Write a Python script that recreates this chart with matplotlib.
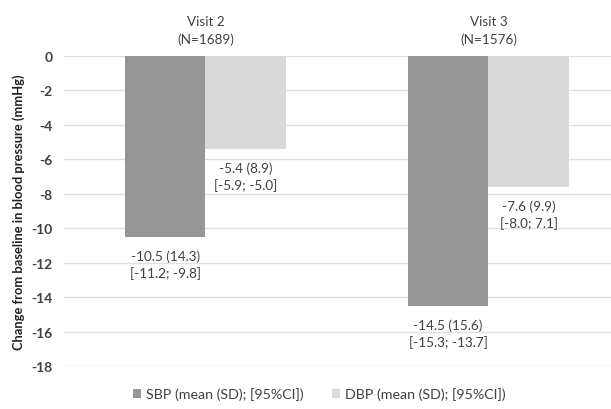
import matplotlib
matplotlib.use("Agg")
import matplotlib.pyplot as plt
import numpy as np

visits = ["Visit 2\n(N=1689)", "Visit 3\n(N=1576)"]
sbp_mean = [-10.5, -14.5]
sbp_sd = [14.3, 15.6]
sbp_ci = [(-11.2, -9.8), (-15.3, -13.7)]
dbp_mean = [-5.4, -7.6]
dbp_sd = [8.9, 9.9]
dbp_ci = [(-5.9, -5.0), (-8.0, "7.1")]
series_names = ["SBP (mean (SD); [95%CI])", "DBP (mean (SD); [95%CI])"]
yticks = list(range(0, -20, -2))

SBP_COLOR = "#969696"
DBP_COLOR = "#d9d9d9"
TEXT_COLOR = "#404040"

plt.rcParams["font.family"] = ["Lato", "DejaVu Sans"]

fig = plt.figure(figsize=(6.11, 4.10), dpi=100)
ax = fig.add_axes([0.1047, 0.1049, 0.8953, 0.7561])

x = np.arange(len(visits))
width = 0.285
ax.bar(x - width / 2, sbp_mean, width, color=SBP_COLOR, label=series_names[0], zorder=3)
ax.bar(x + width / 2, dbp_mean, width, color=DBP_COLOR, label=series_names[1], zorder=3)


def fmt(v):
    return v if isinstance(v, str) else f"{v:.1f}"


# mean (SD) and CI under the end of each bar
for i in range(len(visits)):
    for off, mean, sd, ci in (
        (-width / 2, sbp_mean[i], sbp_sd[i], sbp_ci[i]),
        (width / 2, dbp_mean[i], dbp_sd[i], dbp_ci[i]),
    ):
        label = f"{mean:.1f} ({sd:.1f})\n[{fmt(ci[0])}; {fmt(ci[1])}]"
        ax.annotate(label, (x[i] + off, mean), xytext=(0, -9), textcoords="offset points",
                    ha="center", va="top", fontsize=9.7, color=TEXT_COLOR, linespacing=1.4)

ax.set_xlim(-0.5, 1.433)
ax.set_ylim(-18, 0)
ax.set_yticks(yticks)
ax.set_yticklabels([str(t) for t in yticks], fontweight="bold")
ax.tick_params(axis="y", length=0, pad=8, labelsize=10, labelcolor=TEXT_COLOR)
ax.xaxis.tick_top()
ax.set_xticks(x)
ax.set_xticklabels(visits, fontsize=9.7, color=TEXT_COLOR, linespacing=1.55)
ax.tick_params(axis="x", length=0, pad=8)
ax.grid(axis="y", color="#e0e0e0", linewidth=1, zorder=0)
for spine in ax.spines.values():
    spine.set_visible(False)

ax.set_ylabel("Change from baseline in blood pressure (mmHg)", fontsize=9.3,
              fontweight="bold", color="#202020", labelpad=5)

fig.legend(loc="center", bbox_to_anchor=(0.522, 0.037), ncol=2, frameon=False,
           fontsize=10.3, handlelength=0.6, handleheight=0.6, handletextpad=0.3,
           columnspacing=2.0, labelcolor=TEXT_COLOR)

fig.savefig("out.png", dpi=100)
